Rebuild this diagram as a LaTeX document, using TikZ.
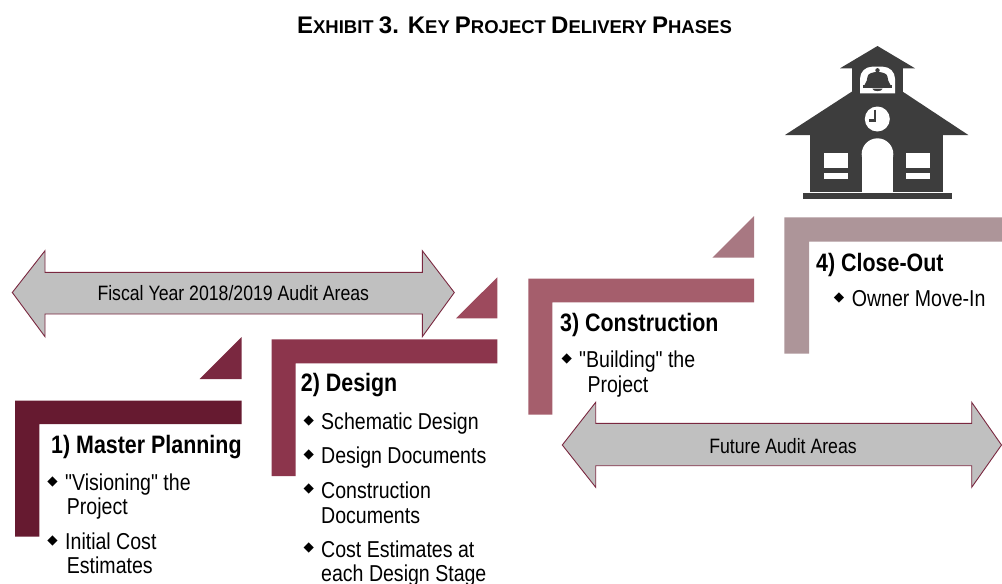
\documentclass[tikz,border=0pt]{standalone}
\usepackage{fontspec}
\newfontfamily\narrowf{Liberation Sans}[FakeStretch=0.85]
\newfontfamily\titlef{Liberation Sans}
\newfontfamily\dejavu{DejaVu Sans}
\definecolor{sA}{HTML}{661A30}
\definecolor{tA}{HTML}{7A2840}
\definecolor{sB}{HTML}{8C354C}
\definecolor{tB}{HTML}{9D4A5D}
\definecolor{sC}{HTML}{A55E6C}
\definecolor{tC}{HTML}{A87882}
\definecolor{sD}{HTML}{AD9599}
\definecolor{arrfill}{HTML}{C0C0C0}
\definecolor{arredge}{HTML}{7A2840}
\definecolor{icon}{HTML}{3D3D3D}
\newcommand\tbig[1]{{\fontsize{24}{24}\selectfont #1}}
\newcommand\tsml[1]{{\fontsize{18.5}{18.5}\selectfont #1}}
\tikzset{
  head/.style={anchor=base west,inner sep=0pt,font=\narrowf\bfseries\fontsize{25.2}{25.2}\selectfont},
  body/.style={anchor=base west,inner sep=0pt,font=\narrowf\fontsize{23}{23}\selectfont},
  bul/.style={anchor=center,inner sep=0pt,font=\dejavu\fontsize{13.5}{13.5}\selectfont},
  arrtext/.style={anchor=center,inner sep=0pt,font=\narrowf\fontsize{20.8}{20.8}\selectfont},
  blockarrow/.style={fill=arrfill,draw=arredge,line width=0.9pt,line join=miter},
}
\begin{document}
\begin{tikzpicture}[x=1pt,y=-1pt]
\useasboundingbox (0,0) rectangle (1002,584);
\fill[white] (0,0) rectangle (1002,584);

% title
\node[anchor=base,inner sep=0pt,font=\titlef\bfseries] (title) at (514.5,33.3)
  {\tbig{E}\tsml{XHIBIT }\tbig{3. K}\tsml{EY }\tbig{P}\tsml{ROJECT }\tbig{D}\tsml{ELIVERY }\tbig{P}\tsml{HASES}};

% steps
\fill[sA] (15,400.7) -- (241.5,400.7) -- (241.5,424) -- (39.3,424) -- (39.3,536.7) -- (15,536.7) -- cycle;
\fill[tA] (241.5,337) -- (241.5,379) -- (199.5,379) -- cycle;
\fill[sB] (271.7,339.3) -- (497.3,339.3) -- (497.3,363.3) -- (295.7,363.3) -- (295.7,476) -- (271.7,476) -- cycle;
\fill[tB] (497.3,277.3) -- (497.3,318.3) -- (456,318.3) -- cycle;
\fill[sC] (528.3,278.7) -- (754,278.7) -- (754,302.3) -- (552.3,302.3) -- (552.3,414.7) -- (528.3,414.7) -- cycle;
\fill[tC] (754,216) -- (754,257.7) -- (712.3,257.7) -- cycle;
\fill[sD] (784.3,217.3) -- (1002,217.3) -- (1002,241.7) -- (809,241.7) -- (809,353.7) -- (784.3,353.7) -- cycle;

% block arrows
\draw[blockarrow] (12.3,292.5) -- (45,250.7) -- (45,272.3) -- (422.3,272.3) -- (422.3,250.7) -- (454.3,292.5) -- (422.3,336.7) -- (422.3,314) -- (45,314) -- (45,336.7) -- cycle;
\node[arrtext] (fy) at (233.3,293) {Fiscal Year 2018/2019 Audit Areas};
\draw[blockarrow] (562.3,445) -- (595.7,402.3) -- (595.7,423.3) -- (971.7,423.3) -- (971.7,402.3) -- (1001.5,445) -- (971.7,487.3) -- (971.7,465.7) -- (595.7,465.7) -- (595.7,487.3) -- cycle;
\node[arrtext] (fu) at (783,446) {Future Audit Areas};

% step 1 text
\node[head] (h1) at (51,453.3) {1) Master Planning};
\node[bul] (b1a) at (52.5,481.5) {◆};
\node[body] (t1a) at (65,490) {"Visioning" the};
\node[body] (t1b) at (66.7,514.5) {Project};
\node[bul] (b1b) at (52.5,540.5) {◆};
\node[body] (t1c) at (65,549) {Initial Cost};
\node[body] (t1d) at (66.7,573.5) {Estimates};

% step 2 text
\node[head] (h2) at (300.7,391.7) {2) Design};
\node[bul] (b2a) at (308.7,420.5) {◆};
\node[body] (t2a) at (321,429.5) {Schematic Design};
\node[bul] (b2b) at (308.7,454.5) {◆};
\node[body] (t2b) at (321,463) {Design Documents};
\node[bul] (b2c) at (308.7,489) {◆};
\node[body] (t2c) at (321,498) {Construction};
\node[body] (t2d) at (321,523) {Documents};
\node[bul] (b2d) at (308.7,548) {◆};
\node[body] (t2e) at (321,557) {Cost Estimates at};
\node[body] (t2f) at (321,581) {each Design Stage};

% step 3 text
\node[head] (h3) at (560,331.7) {3) Construction};
\node[bul] (b3a) at (566.7,358.5) {◆};
\node[body] (t3a) at (579,367) {"Building" the};
\node[body] (t3b) at (587.3,392.7) {Project};

% step 4 text
\node[head] (h4) at (816,271) {4) Close-Out};
\node[bul] (b4a) at (839,298.3) {◆};
\node[body] (t4a) at (851.7,306.7) {Owner Move-In};

% school icon
\fill[icon] (877.5,46) -- (840,68.3) -- (915,68.3) -- cycle;
\fill[icon] (851.7,67.5) rectangle (903.3,100);
\fill[icon] (877.5,75) -- (785,135) -- (968.3,135) -- cycle;
\fill[icon] (810,134.5) rectangle (943.3,191.7);
\fill[icon] (802.7,193.3) rectangle (951.7,199.3);
% bell window
\fill[white] (860,93.3) [rounded corners=12pt] -- (860,66.7) -- (895,66.7) [sharp corners] -- (895,93.3) -- cycle;
% bell
\fill[icon] (864.5,85.2) .. controls (866.5,82.5) and (867.3,79) .. (867.6,76.5) .. controls (868.2,70.5) and (886.8,70.5) .. (887.4,76.5) .. controls (887.7,79) and (888.5,82.5) .. (890.5,85.2) -- cycle;
\fill[icon] (877.5,70.3) circle (2.2pt);
\fill[icon] (863.3,85) rectangle (891.7,87.8);
\fill[icon] (872.3,88.5) .. controls (872.5,92) and (882.5,92) .. (882.7,88.5) -- cycle;
% clock
\fill[white] (877.3,119) circle (12.5pt);
\draw[icon,line width=2.2pt] (875,109.5) -- (875,120.5) -- (868.8,120.5);
% door
\fill[white] (861.7,154.1) rectangle (893.3,191.7);
\fill[white] (877.5,154.1) circle (15.8pt);
% windows
\fill[white] (824.3,153.3) rectangle (848.3,168.3);
\fill[white] (824.3,172.7) rectangle (848.3,179.3);
\fill[white] (906,153.3) rectangle (930,168.3);
\fill[white] (906,172.7) rectangle (930,179.3);
\end{tikzpicture}
\end{document}
